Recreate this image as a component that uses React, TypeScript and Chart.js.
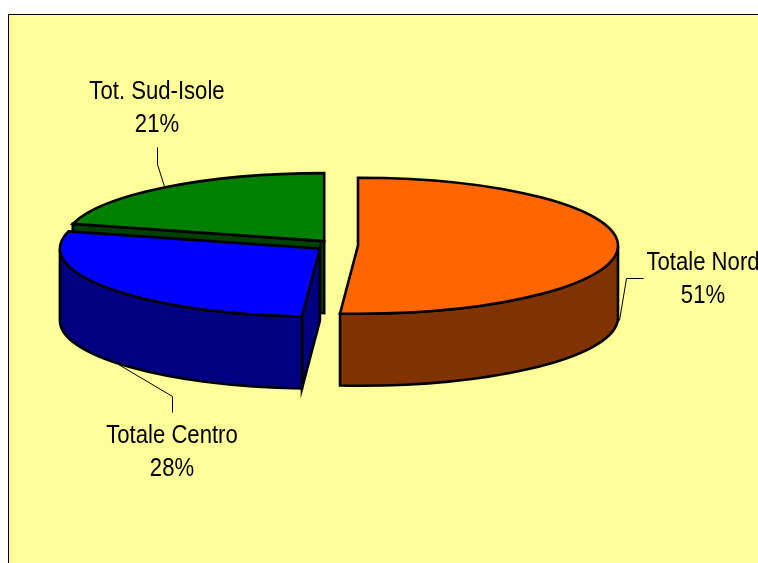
import React, { useEffect, useRef } from "react";
import { Chart, registerables } from "chart.js";

Chart.register(...registerables);

const categories = ["Totale Nord", "Totale Centro", "Tot. Sud-Isole"];
const shares = [51.1, 28, 20.9];
const topColors = ["#FF6600", "#0000FF", "#008000"];
const sideColors = ["#803300", "#000080", "#004000"];
const paintOrder = [2, 0, 1];
const labelCentres = [[703, 270], [172, 443], [157, 99]];
const leaderLines = [
  [[643, 278], [626, 278], [619, 320]],
  [[172, 412], [172, 396], [118, 364]],
  [[157, 147], [157, 164], [164, 186]],
];

const SQUASH = 68 / 260;
const DEPTH = 72;
const FONT = "25px 'Liberation Sans', Arial, sans-serif";
const TEXT_SQUEEZE = 0.885;

const pie3d = {
  id: "pie3d",
  beforeDraw(chart: any) {
    const { ctx, width, height } = chart;
    ctx.save();
    ctx.fillStyle = "#FFFF99";
    ctx.fillRect(8, 14, width, height);
    ctx.fillStyle = "#000000";
    ctx.fillRect(8, 14, width, 1);
    ctx.fillRect(8, 14, 1, height);
    ctx.restore();
  },
  beforeDatasetsDraw(chart: any) {
    const { ctx } = chart;
    const meta = chart.getDatasetMeta(0);
    ctx.save();
    ctx.lineWidth = 2.6;
    ctx.strokeStyle = "#000000";
    ctx.lineJoin = "miter";
    paintOrder.forEach((i) => {
      const arc = meta.data[i];
      const { x, y, startAngle, endAngle, outerRadius } = arc.getProps(
        ["x", "y", "startAngle", "endAngle", "outerRadius"],
        true
      );
      const mid = (startAngle + endAngle) / 2;
      const off = arc.options.offset;
      const cx = x + Math.cos(mid) * off;
      const cy = y + Math.sin(mid) * off * SQUASH;
      const rx = outerRadius;
      const ry = outerRadius * SQUASH;
      const px = (a: number) => cx + rx * Math.cos(a);
      const py = (a: number) => cy + ry * Math.sin(a);
      const face = (a: number) => {
        ctx.beginPath();
        ctx.moveTo(cx, cy);
        ctx.lineTo(px(a), py(a));
        ctx.lineTo(px(a), py(a) + DEPTH);
        ctx.lineTo(cx, cy + DEPTH);
        ctx.closePath();
        ctx.fillStyle = sideColors[i];
        ctx.fill();
        ctx.stroke();
      };
      if (Math.cos(startAngle) < -0.001) face(startAngle);
      if (Math.cos(endAngle) > 0.001) face(endAngle);
      const a1 = Math.max(startAngle, 0);
      const a2 = Math.min(endAngle, Math.PI);
      if (a2 > a1) {
        ctx.beginPath();
        ctx.ellipse(cx, cy, rx, ry, 0, a1, a2, false);
        ctx.ellipse(cx, cy + DEPTH, rx, ry, 0, a2, a1, true);
        ctx.closePath();
        ctx.fillStyle = sideColors[i];
        ctx.fill();
        ctx.stroke();
      }
      ctx.beginPath();
      ctx.moveTo(cx, cy);
      ctx.ellipse(cx, cy, rx, ry, 0, startAngle, endAngle, false);
      ctx.closePath();
      ctx.fillStyle = arc.options.backgroundColor;
      ctx.fill();
      ctx.stroke();
    });
    ctx.restore();
    return false;
  },
  afterDraw(chart: any) {
    const { ctx } = chart;
    ctx.save();
    ctx.lineWidth = 1;
    ctx.strokeStyle = "#000000";
    leaderLines.forEach((line) => {
      ctx.beginPath();
      line.forEach(([x, y], k) => (k ? ctx.lineTo(x + 0.5, y + 0.5) : ctx.moveTo(x + 0.5, y + 0.5)));
      ctx.stroke();
    });
    ctx.font = FONT;
    ctx.fillStyle = "#000000";
    ctx.textAlign = "center";
    ctx.textBaseline = "alphabetic";
    categories.forEach((name, i) => {
      const [x, y] = labelCentres[i];
      ctx.save();
      ctx.translate(x, 0);
      ctx.scale(TEXT_SQUEEZE, 1);
      ctx.fillText(name, 0, y);
      ctx.fillText(Math.round(shares[i]) + "%", 0, y + 33);
      ctx.restore();
    });
    ctx.restore();
  },
};

export default function App() {
  const ref = useRef<HTMLCanvasElement>(null);
  useEffect(() => {
    const chart = new Chart(ref.current as HTMLCanvasElement, {
      type: "pie",
      data: {
        labels: categories,
        datasets: [
          {
            data: shares,
            backgroundColor: topColors,
            borderColor: "#000000",
            borderWidth: 2,
            offset: 21,
          },
        ],
      },
      options: {
        responsive: false,
        animation: false,
        radius: 260,
        layout: { padding: { left: 0, top: 0, right: 84, bottom: 72 } },
        plugins: { legend: { display: false }, tooltip: { enabled: false } },
      },
      plugins: [pie3d],
    } as any);
    return () => chart.destroy();
  }, []);
  return (
    <canvas
      ref={ref}
      width={758}
      height={563}
      style={{ position: "fixed", left: 0, top: 0, width: 758, height: 563, display: "block" }}
    />
  );
}
